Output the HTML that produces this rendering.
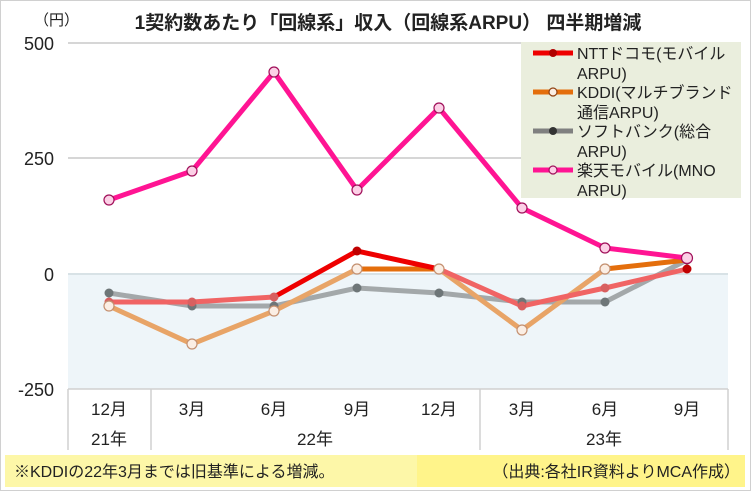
<!DOCTYPE html>
<html><head><meta charset="utf-8"><style>
body{margin:0;background:#fff}
svg{display:block;font-family:"Liberation Sans","Noto Sans CJK JP",sans-serif}
</style></head><body>
<svg width="751" height="491" viewBox="0 0 751 491">
<rect x="0.5" y="0.5" width="750" height="490" fill="#fff" stroke="#d0d0d0"/>
<text x="388" y="29" font-size="19" font-weight="bold" text-anchor="middle" fill="#222">1契約数あたり「回線系」収入（回線系ARPU） 四半期増減</text>
<text x="34" y="25" font-size="15" fill="#222">（円）</text>
<rect x="68" y="274" width="660" height="115" fill="#eef5f9"/>
<line x1="68" y1="43" x2="728" y2="43" stroke="#d6d6d6" stroke-width="2"/>
<line x1="68" y1="158" x2="728" y2="158" stroke="#d6d6d6" stroke-width="2"/>
<line x1="68" y1="274" x2="728" y2="274" stroke="#d8e2e6" stroke-width="2"/>
<g font-size="18" fill="#222" text-anchor="end">
<text x="54" y="50">500</text><text x="54" y="165">250</text><text x="54" y="281">0</text><text x="54" y="396">-250</text>
</g>
<g stroke="#d0d0d0" stroke-width="1.5">
<line x1="68" y1="389" x2="728" y2="389"/>
<line x1="68" y1="389" x2="68" y2="450"/><line x1="151" y1="389" x2="151" y2="450"/>
<line x1="480" y1="389" x2="480" y2="450"/><line x1="728" y1="389" x2="728" y2="450"/>
</g>
<g font-size="17" fill="#222" text-anchor="middle">
<text x="109" y="415">12月</text><text x="192" y="415">3月</text><text x="274" y="415">6月</text><text x="357" y="415">9月</text><text x="439" y="415">12月</text><text x="522" y="415">3月</text><text x="605" y="415">6月</text><text x="687" y="415">9月</text>
<text x="109" y="445">21年</text><text x="315" y="445">22年</text><text x="604" y="445">23年</text>
</g>
<!-- softbank -->
<polyline points="109,293 192,306 274,306 357,288 439,293 522,302 605,302 687,260" fill="none" stroke="#a3a8aa" stroke-width="5"/>
<!-- kddi faded -->
<polyline points="109,306 192,344 274,311 357,269" fill="none" stroke="#e8a467" stroke-width="5"/>
<polyline points="439,269 522,330 605,269" fill="none" stroke="#e8a467" stroke-width="5"/>
<polyline points="357,269 439,269" fill="none" stroke="#e46e0c" stroke-width="5"/>
<polyline points="605,269 687,260" fill="none" stroke="#e46e0c" stroke-width="5"/>
<!-- docomo -->
<polyline points="109,302 192,302 274,297" fill="none" stroke="#f06464" stroke-width="5"/>
<polyline points="274,297 357,251 439,269" fill="none" stroke="#ee0000" stroke-width="5"/>
<polyline points="439,269 522,306 605,288 687,269" fill="none" stroke="#f06464" stroke-width="5"/>
<!-- rakuten -->
<polyline points="109,200 192,171 274,72 357,190 439,108 522,208 605,248 687,258" fill="none" stroke="#ff1493" stroke-width="5"/>
<g fill="#6e7678"><circle cx="109" cy="293" r="4.5"/><circle cx="192" cy="306" r="4.5"/><circle cx="274" cy="306" r="4.5"/><circle cx="357" cy="288" r="4.5"/><circle cx="439" cy="293" r="4.5"/><circle cx="522" cy="302" r="4.5"/><circle cx="605" cy="302" r="4.5"/></g>
<g fill="#d86060"><circle cx="109" cy="302" r="4.5"/><circle cx="192" cy="302" r="4.5"/><circle cx="274" cy="297" r="4.5"/><circle cx="522" cy="306" r="4.5"/><circle cx="605" cy="288" r="4.5"/></g>
<g fill="#c00000"><circle cx="357" cy="251" r="4.5"/><circle cx="687" cy="269" r="4.5"/></g>
<g fill="#fbeee4" stroke="#c49070" stroke-width="1.2"><circle cx="109" cy="306" r="5"/><circle cx="192" cy="344" r="5"/><circle cx="274" cy="311" r="5"/><circle cx="357" cy="269" r="5"/><circle cx="439" cy="269" r="5"/><circle cx="522" cy="330" r="5"/><circle cx="605" cy="269" r="5"/></g>
<circle cx="687" cy="260" r="4.5" fill="#333"/>
<g fill="#fcd0e6" stroke="#a0105a" stroke-width="1.2"><circle cx="109" cy="200" r="5"/><circle cx="192" cy="171" r="5"/><circle cx="274" cy="72" r="5"/><circle cx="357" cy="190" r="5"/><circle cx="439" cy="108" r="5"/><circle cx="522" cy="208" r="5"/><circle cx="605" cy="248" r="5"/><circle cx="687" cy="258" r="5.5"/></g>
<!-- legend -->
<rect x="521" y="42" width="220" height="156" fill="#eaeedd"/>
<g stroke-width="5">
<line x1="533" y1="53" x2="573" y2="53" stroke="#ee0000"/>
<line x1="533" y1="92" x2="573" y2="92" stroke="#e46e0c"/>
<line x1="533" y1="131" x2="573" y2="131" stroke="#808080"/>
<line x1="533" y1="170" x2="573" y2="170" stroke="#ff1493"/>
</g>
<circle cx="553" cy="53" r="4" fill="#b00000"/>
<circle cx="553" cy="92" r="4" fill="#fbeee4" stroke="#904010" stroke-width="1.2"/>
<circle cx="553" cy="131" r="4" fill="#333"/>
<circle cx="553" cy="170" r="4" fill="#fcd0e6" stroke="#a0105a" stroke-width="1.2"/>
<g font-size="16" fill="#222">
<text x="577" y="59">NTTドコモ(モバイル</text><text x="577" y="79">ARPU)</text>
<text x="577" y="98">KDDI(マルチブランド</text><text x="577" y="118">通信ARPU)</text>
<text x="577" y="137">ソフトバンク(総合</text><text x="577" y="157">ARPU)</text>
<text x="577" y="176">楽天モバイル(MNO</text><text x="577" y="196">ARPU)</text>
</g>
<!-- footer -->
<rect x="5" y="455" width="412" height="32" fill="#fdf7a8"/>
<rect x="417" y="455" width="328" height="32" fill="#fff48a"/>
<text x="14" y="477" font-size="16" fill="#222">※KDDIの22年3月までは旧基準による増減。</text>
<text x="740" y="477" font-size="16" fill="#222" text-anchor="end">（出典:各社IR資料よりMCA作成）</text>
</svg>
</body></html>
